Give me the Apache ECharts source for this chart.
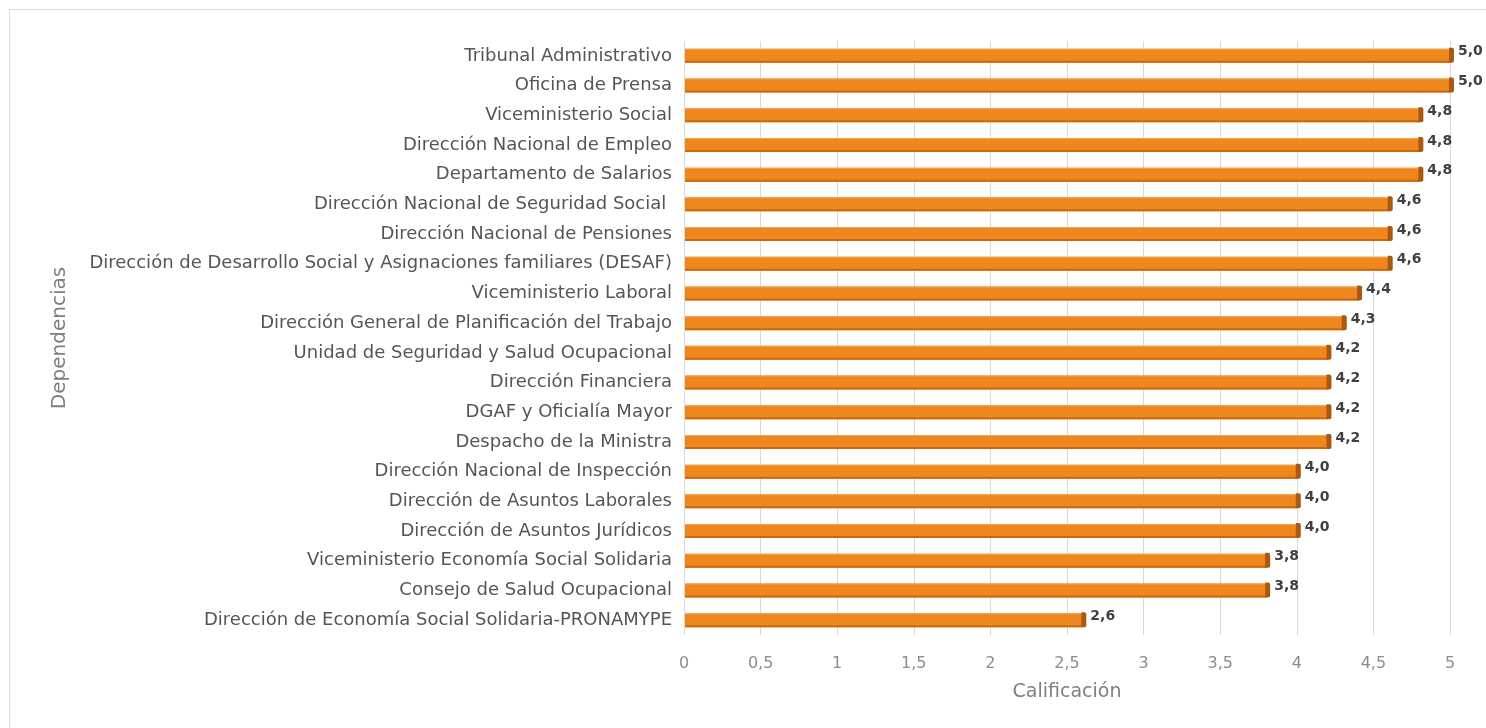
<!DOCTYPE html>
<html><head><meta charset="utf-8">
<script src="https://cdn.jsdelivr.net/npm/echarts@6/dist/echarts.min.js"></script>
<style>html,body{margin:0;padding:0;background:#fff}#c{width:1486px;height:728px}</style>
</head><body><div id="c"></div>
<script>
const categories = [
"Tribunal Administrativo","Oficina de Prensa","Viceministerio Social","Dirección Nacional de Empleo",
"Departamento de Salarios","Dirección Nacional de Seguridad Social ","Dirección Nacional de Pensiones",
"Dirección de Desarrollo Social y Asignaciones familiares (DESAF)","Viceministerio Laboral",
"Dirección General de Planificación del Trabajo","Unidad de Seguridad y Salud Ocupacional",
"Dirección Financiera","DGAF y Oficialía Mayor","Despacho de la Ministra","Dirección Nacional de Inspección",
"Dirección de Asuntos Laborales","Dirección de Asuntos Jurídicos","Viceministerio Economía Social Solidaria",
"Consejo de Salud Ocupacional","Dirección de Economía Social Solidaria-PRONAMYPE"];
const values = [5.0,5.0,4.8,4.8,4.8,4.6,4.6,4.6,4.4,4.3,4.2,4.2,4.2,4.2,4.0,4.0,4.0,3.8,3.8,2.6];
const xTicks = {min:0,max:5,interval:0.5};

const chart = echarts.init(document.getElementById('c'));
const fmt = v => String(v).replace('.', ',');
const F = '"DejaVu Sans"';
chart.setOption({
  animation:false,
  graphic:[{type:'rect',shape:{x:9.5,y:9.5,width:1490,height:730},style:{fill:'none',stroke:'#d9d9d9',lineWidth:1}}],
  grid:{left:684,right:36,top:41,height:594},
  xAxis:{type:'value',min:xTicks.min,max:xTicks.max,interval:xTicks.interval,
    name:'Calificación',nameLocation:'middle',nameGap:48,
    nameTextStyle:{color:'#7f7f7f',fontSize:19,fontFamily:F},
    axisLine:{show:false},axisTick:{show:false},
    axisLabel:{color:'#8c8c8c',fontSize:16,fontFamily:F,margin:21,formatter:v=>fmt(v)},
    splitLine:{lineStyle:{color:'#d9d9d9',width:1}}},
  yAxis:{type:'category',data:categories,inverse:true,
    name:'Dependencias',nameLocation:'middle',nameGap:614,nameRotate:90,
    nameTextStyle:{color:'#7f7f7f',fontSize:20,fontFamily:F},
    axisLine:{show:false},axisTick:{show:false},
    axisLabel:{color:'#555555',fontSize:18,fontFamily:F,margin:12}},
  series:[{type:'custom',
    data:values.map((v,i)=>[v,i]),
    encode:{x:0,y:1},
    renderItem:function(params,api){
      const v=api.value(0), idx=api.value(1);
      const p0=api.coord([0,idx]), p1=api.coord([v,idx]);
      const h=14, y=p0[1]-h/2, x0=p0[0]+1, x1=p1[0];
      return {type:'group',children:[
        {type:'rect',shape:{x:x0,y:y,width:x1-x0,height:h},style:{fill:'#F0861E'}},
        {type:'rect',shape:{x:x0,y:y+h-2,width:x1-x0,height:2},style:{fill:'#C96A10'}},
        {type:'rect',shape:{x:x0,y:y,width:x1-x0,height:1},style:{fill:'#F8A24A'}},
        {type:'rect',shape:{x:x1-1,y:y-1,width:5,height:h+1,r:[0,2,2,0]},style:{fill:'#A85A10'}},
        {type:'text',style:{x:x1+8,y:p0[1]-4,text:fmt(v.toFixed(1)),fill:'#404040',
          font:'bold 14px "DejaVu Sans"',verticalAlign:'middle',align:'left'}}
      ]};
    }
  }]
});
</script></body></html>
